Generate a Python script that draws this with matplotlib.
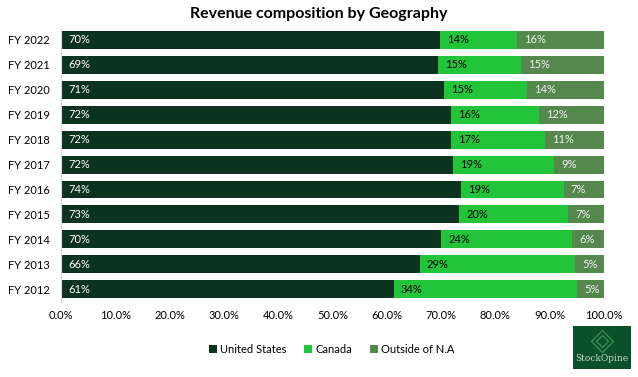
import matplotlib.pyplot as plt
from matplotlib.patches import Rectangle

plt.rcParams['font.family'] = ['Lato', 'DejaVu Sans']

years = ['FY 2012', 'FY 2013', 'FY 2014', 'FY 2015', 'FY 2016', 'FY 2017',
         'FY 2018', 'FY 2019', 'FY 2020', 'FY 2021', 'FY 2022']
united_states = [61.3, 66.1, 70.0, 73.3, 73.7, 72.2, 71.8, 71.8, 70.6, 69.4, 69.8]
canada = [33.7, 28.6, 24.1, 20.1, 18.9, 18.6, 17.3, 16.2, 15.2, 15.3, 14.2]
outside = [5.0, 5.3, 5.9, 6.6, 7.4, 9.2, 10.9, 12.0, 14.2, 15.3, 16.0]

series = [('United States', united_states, '#0b3320', 'white'),
          ('Canada', canada, '#22c43a', 'black'),
          ('Outside of N.A', outside, '#55884d', '#f2f2f2')]

fig = plt.figure(figsize=(6.38, 3.77), dpi=100)
ax = fig.add_axes([61 / 638, 0.2, 543 / 638, 0.727])

y = range(len(years))
left = [0.0] * len(years)
for name, vals, color, tcolor in series:
    ax.barh(y, vals, left=left, height=0.72, color=color, label=name)
    for i, v in enumerate(vals):
        ax.text(left[i] + 1.3, i, f'{round(v):d}%', va='center', ha='left',
                color=tcolor, fontsize=8)
    left = [l + v for l, v in zip(left, vals)]

ax.set_xlim(0, 100)
ax.set_ylim(-0.5, len(years) - 0.5)
ax.set_yticks(list(y))
ax.set_yticklabels(years, fontsize=8)
ax.set_xticks(range(0, 101, 10))
ax.set_xticklabels([f'{t:.1f}%' for t in range(0, 101, 10)], fontsize=8)
ax.tick_params(axis='x', length=0, pad=6)
ax.tick_params(axis='y', length=0, pad=8)
for s in ['top', 'right', 'bottom']:
    ax.spines[s].set_visible(False)
ax.spines['left'].set_color('#d9d9d9')

fig.text(0.5, 0.962, 'Revenue composition by Geography', ha='center', va='center',
         fontsize=11.5, fontweight='bold')

fig.legend(loc='center', bbox_to_anchor=(0.52, 0.074), ncol=3, frameon=False,
           fontsize=8, handlelength=0.7, handleheight=0.7, handletextpad=0.3,
           columnspacing=1.6)

# logo box
lax = fig.add_axes([573 / 638, 8 / 377, 58 / 638, 43 / 377])
lax.set_xlim(0, 1)
lax.set_ylim(0, 1)
lax.axis('off')
lax.add_patch(Rectangle((0, 0), 1, 1, color='#0a5028'))
lax.plot(0.5, 0.66, marker='D', markersize=11, markerfacecolor='none',
         markeredgecolor='#3f9a5a', markeredgewidth=0.8)
lax.plot(0.5, 0.66, marker='D', markersize=6, markerfacecolor='none',
         markeredgecolor='#3f9a5a', markeredgewidth=0.8)
lax.text(0.5, 0.25, 'StockOpine', ha='center', va='center', color='#c8d8cc',
         fontsize=6.5, family='DejaVu Serif')

fig.savefig('out.png', dpi=100)
